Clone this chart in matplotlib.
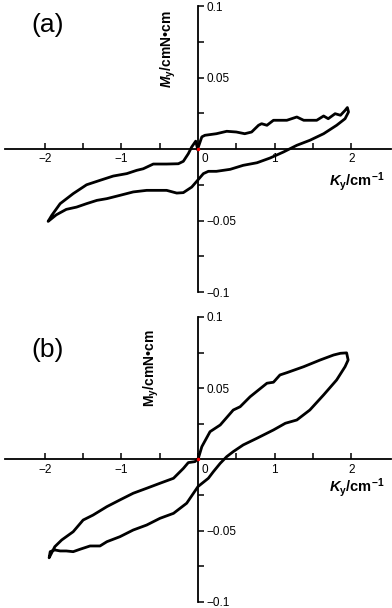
import matplotlib
matplotlib.use("Agg")
from matplotlib import pyplot as plt
from matplotlib.transforms import ScaledTranslation

plt.rcParams['font.family'] = ['Liberation Sans', 'DejaVu Sans']
plt.rcParams['mathtext.fontset'] = 'custom'
plt.rcParams['mathtext.rm'] = 'Liberation Sans'
plt.rcParams['mathtext.bf'] = 'Liberation Sans:bold'
plt.rcParams['mathtext.it'] = 'Liberation Sans:italic'
plt.rcParams['mathtext.bfit'] = 'Liberation Sans:bold:italic'

# panel (a): one closed loop, start near origin, out along the upper branch
a_x = [-0.005, 0.05, 0.09, 0.24, 0.375, 0.50, 0.61, 0.70, 0.79, 0.83, 0.90, 0.985,
       1.16, 1.29, 1.38, 1.55, 1.64, 1.70, 1.79, 1.86, 1.92, 1.95,
       1.965, 1.92, 1.81, 1.64, 1.46, 1.29, 1.115, 0.94, 0.77, 0.59, 0.42, 0.24,
       0.135, 0.07, -0.017, -0.082, -0.192, -0.278, -0.41, -0.67, -0.846, -1.02,
       -1.19, -1.32, -1.455, -1.585, -1.72, -1.85, -1.957,
       -1.91, -1.80, -1.63, -1.455, -1.28, -1.107, -0.93, -0.80, -0.715, -0.584,
       -0.41, -0.257, -0.192, -0.127, -0.083, -0.03, -0.005]
a_y = [0.0, 0.0085, 0.0096, 0.0107, 0.0124, 0.0119, 0.0107, 0.0119, 0.0166, 0.0177,
       0.0166, 0.0201, 0.0201, 0.0224, 0.0201, 0.0201, 0.0231, 0.0212, 0.0247,
       0.0236, 0.0270, 0.0290,
       0.0259, 0.0212, 0.0166, 0.0107, 0.0061, 0.0026, -0.0021, -0.0063, -0.0096,
       -0.0114, -0.0142, -0.0156, -0.0156, -0.0172, -0.0226, -0.0266, -0.0305,
       -0.0308, -0.0289, -0.0289, -0.0300, -0.0324, -0.0347, -0.0359, -0.0382,
       -0.0406, -0.0422, -0.0460, -0.0506,
       -0.0464, -0.0382, -0.0312, -0.0250, -0.0219, -0.0189, -0.0172, -0.0149,
       -0.0138, -0.0105, -0.0105, -0.0103, -0.0086, -0.0033, 0.0014, 0.0055, 0.0]

# panel (b)
b_x = [0.004, 0.05, 0.157, 0.29, 0.46, 0.55, 0.68, 0.90, 0.985, 1.07, 1.16, 1.38,
       1.595, 1.77, 1.86, 1.94, 1.96,
       1.92, 1.81, 1.64, 1.46, 1.29, 1.14, 0.985, 0.77, 0.59, 0.46, 0.375, 0.29,
       0.20, 0.135, 0.0, -0.148, -0.32, -0.497, -0.67, -0.846, -1.02, -1.19,
       -1.28, -1.41, -1.54, -1.63, -1.72, -1.80, -1.87, -1.93, -1.944,
       -1.87, -1.78, -1.63, -1.50, -1.37, -1.19, -1.02, -0.846, -0.67, -0.497,
       -0.32, -0.19, -0.127, -0.039, 0.004]
b_y = [0.0008, 0.0090, 0.0195, 0.0242, 0.0347, 0.0370, 0.0440, 0.0535, 0.0542,
       0.0593, 0.0609, 0.0651, 0.0698, 0.0733, 0.0745, 0.0748, 0.0698,
       0.0651, 0.0558, 0.0453, 0.0347, 0.0277, 0.0254, 0.0207, 0.0149, 0.0102,
       0.0055, 0.0020, -0.0027, -0.0086, -0.0132, -0.0190, -0.0307, -0.0378,
       -0.0413, -0.0460, -0.0495, -0.0542, -0.0577, -0.0607, -0.0607, -0.0630,
       -0.0647, -0.0642, -0.0642, -0.0635, -0.0647, -0.0690,
       -0.0612, -0.0565, -0.0507, -0.0425, -0.0390, -0.0331, -0.0284, -0.0237,
       -0.0202, -0.0167, -0.0132, -0.0062, -0.0022, -0.0015, 0.0008]

y_ticks = [-0.1, -0.05, 0.05, 0.1]
y_labels = ['\u22120.1', '\u22120.05', '0.05', '0.1']
x_ticks = [-2, -1, 0, 1, 2]
x_labels = ['\u22122', '\u22121', '0', '1', '2']


def setup_axes(ax, tag, tag_y, k_y, m_label):
    ax.set_xlim(-2.52, 2.52)
    ax.set_ylim(-0.1, 0.1)
    ax.patch.set_visible(False)
    for side in ['top', 'left']:
        ax.spines[side].set_visible(False)
    ax.spines['bottom'].set_position(('data', 0))
    ax.spines['right'].set_position(('data', 0))
    ax.spines['bottom'].set_linewidth(1.3)
    ax.spines['right'].set_linewidth(1.3)
    ax.xaxis.tick_bottom()
    ax.yaxis.tick_right()
    ax.set_xticks(x_ticks)
    ax.set_xticklabels(x_labels)
    ax.set_xticks([-1.5, -0.5, 0.5, 1.5], minor=True)
    ax.set_yticks(y_ticks)
    ax.set_yticklabels(y_labels)
    ax.set_yticks([-0.075, -0.025, 0.025, 0.075], minor=True)
    ax.tick_params(axis='x', which='both', direction='in', length=4, width=1.1,
                   labelsize=8.5, pad=3)
    ax.tick_params(axis='y', which='both', direction='out', length=4, width=1.1,
                   labelsize=8.5, pad=2)
    # shift the "0" label off the vertical axis
    zero = ax.xaxis.get_major_ticks()[2].label1
    zero.set_transform(zero.get_transform() +
                       ScaledTranslation(7 / 100, 0, ax.figure.dpi_scale_trans))
    ax.text(0.11, tag_y, tag, transform=ax.transAxes, fontsize=19,
            ha='center', va='center')
    ax.text(0.912, k_y, r'$\mathbfit{K}_{\mathbf{y}}\mathbf{/cm}^{\mathbf{-1}}$',
            transform=ax.transAxes, fontsize=10.5, ha='center', va='center')
    ax.text(m_label[0], m_label[1], m_label[2] + '/cmN\u2022cm',
            transform=ax.transAxes, fontsize=10, fontweight='bold',
            rotation=90, ha='center', va='center')


fig = plt.figure(figsize=(3.92, 6.08), dpi=100)
ax_a = fig.add_axes([0.0128, 0.5197, 0.9847, 0.4704])
ax_b = fig.add_axes([0.0128, 0.0099, 0.9847, 0.4688])

setup_axes(ax_a, '(a)', 0.934, 0.385, (0.422, 0.85, r'$\mathbfit{M}_{\mathbf{y}}$'))
setup_axes(ax_b, '(b)', 0.884, 0.40, (0.38, 0.82, r'$\mathbf{M}_{\mathbf{y}}$'))

ax_a.plot(a_x, a_y, color='black', lw=2.0, solid_joinstyle='round')
ax_b.plot(b_x, b_y, color='black', lw=2.0, solid_joinstyle='round')
for ax in [ax_a, ax_b]:
    ax.plot([0], [0], 'o', color='red', ms=1.5, zorder=5)

fig.savefig('out.png', dpi=100)
